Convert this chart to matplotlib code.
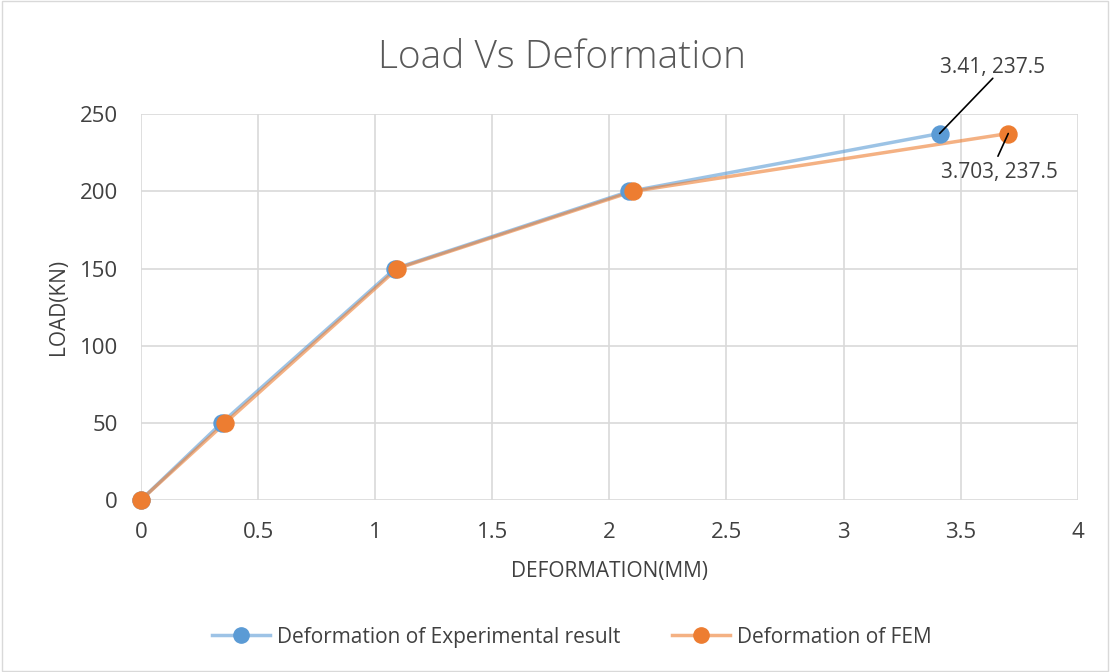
import matplotlib
matplotlib.use("Agg")
import matplotlib.pyplot as plt
from matplotlib.patches import Rectangle

exp_x = [0, 0.345, 1.085, 2.085, 3.41]
exp_y = [0, 50, 150, 200, 237.5]
fem_x = [0, 0.36, 1.095, 2.1, 3.703]
fem_y = [0, 50, 150, 200, 237.5]
x_ticks = [0, 0.5, 1, 1.5, 2, 2.5, 3, 3.5, 4]
x_tick_labels = ['0', '0.5', '1', '1.5', '2', '2.5', '3', '3.5', '4']
y_ticks = [0, 50, 100, 150, 200, 250]

plt.rcParams['font.family'] = ['Open Sans', 'DejaVu Sans']
blue = '#5B9BD5'
orange = '#ED7D31'
txt = '#404040'

fig = plt.figure(figsize=(11.1, 6.72), dpi=100)
fig.patches.append(Rectangle((0.002, 0.002), 0.996, 0.996, transform=fig.transFigure,
                             fill=False, edgecolor='#D9D9D9', linewidth=1))
ax = fig.add_axes([0.127, 0.256, 0.844, 0.574])

ax.plot(exp_x, exp_y, color=blue, alpha=0.6, lw=2.5, zorder=3, solid_capstyle='round')
ax.plot(fem_x, fem_y, color=orange, alpha=0.6, lw=2.5, zorder=3, solid_capstyle='round')
ax.scatter(exp_x, exp_y, s=150, color=blue, zorder=4, clip_on=False)
ax.scatter(fem_x, fem_y, s=150, color=orange, zorder=5, clip_on=False)

h1, = ax.plot([], [], color='#9DC3E6', lw=2.5, marker='o', markersize=11,
              markerfacecolor=blue, markeredgecolor=blue)
h2, = ax.plot([], [], color='#F4B183', lw=2.5, marker='o', markersize=11,
              markerfacecolor=orange, markeredgecolor=orange)

ax.set_xlim(0, 4)
ax.set_ylim(0, 250)
ax.set_xticks(x_ticks)
ax.set_xticklabels(x_tick_labels)
ax.set_yticks(y_ticks)
ax.grid(True, color='#D9D9D9', lw=1.2)
ax.set_axisbelow(True)
for s in ax.spines.values():
    s.set_visible(False)
ax.tick_params(length=0, labelsize=16, colors=txt)
ax.tick_params(axis='x', pad=16)
ax.tick_params(axis='y', pad=16.5)

ax.set_xlabel('DEFORMATION(MM)', fontsize=15, color=txt, labelpad=13)
ax.set_ylabel('LOAD(KN)', fontsize=15, color=txt, labelpad=8)
fig.text(0.506, 0.914, 'Load Vs Deformation', ha='center', va='center',
         fontsize=28, color='#595959', fontweight='light')

# data labels with leader lines
ax.text(3.637, 280.4, f'{exp_x[-1]}, {exp_y[-1]}', ha='center', va='center',
        fontsize=15, color=txt, zorder=6, clip_on=False)
ax.annotate('', xy=(exp_x[-1], exp_y[-1]), xytext=(3.637, 273.3),
            textcoords='data', zorder=6,
            arrowprops=dict(arrowstyle='-', color='black', lw=1.2,
                            shrinkA=0, shrinkB=0), annotation_clip=False)
ax.text(3.667, 212.4, f'{fem_x[-1]}, {fem_y[-1]}', ha='center', va='center',
        fontsize=15, color=txt, zorder=6, clip_on=False)
ax.annotate('', xy=(fem_x[-1], fem_y[-1]), xytext=(3.659, 222.8),
            textcoords='data', zorder=6,
            arrowprops=dict(arrowstyle='-', color='black', lw=1.2,
                            shrinkA=0, shrinkB=0), annotation_clip=False)

fig.legend([h1, h2], ['Deformation of Experimental result', 'Deformation of FEM'],
           loc='center', bbox_to_anchor=(0.515, 0.052), ncol=2, frameon=False,
           fontsize=15, labelcolor=txt, handlelength=2.8, columnspacing=2.5,
           handletextpad=0.3)

fig.savefig('out.png', dpi=100)
